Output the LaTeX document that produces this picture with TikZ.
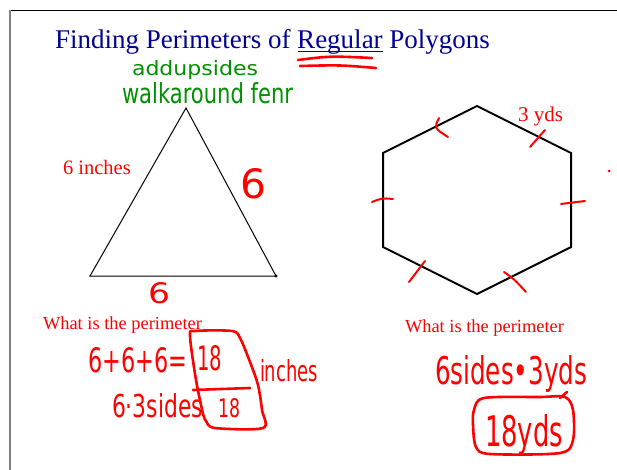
\documentclass[tikz,border=0pt]{standalone}
\usepackage{fontspec}
\setmainfont{Liberation Serif}
\newfontfamily\handfont{DejaVu Sans}
\definecolor{titleblue}{RGB}{0,0,150}
\definecolor{penred}{RGB}{255,0,0}
\definecolor{pengreen}{RGB}{0,145,0}
\newcommand{\scrawl}[3]{\resizebox{#1pt}{#2pt}{\handfont #3}}

\begin{document}
\begin{tikzpicture}[
                x=1pt, y=-1pt,
                every node/.style={inner sep=0pt, outer sep=0pt},
                printed/.style={
                        text=penred, anchor=base west,
                        font=\fontsize{18.4}{20}\selectfont
                    },
                hand/.style={text=penred, anchor=base west},
                ink/.style={draw=penred, line width=2.6pt, line cap=round, line join=round},
                outline/.style={draw=black, line join=miter}
            ]

            \useasboundingbox (0,0) rectangle (617,470);
            \fill[white] (0,0) rectangle (617,470);
            \draw[black, line width=1.3pt] (9,10.5) -- (617,10.5);
            \draw[gray, line width=2pt] (9.5,10) -- (9.5,470);

            \node[anchor=base west, text=titleblue, font=\fontsize{27}{30}\selectfont]
                (title) at (55,49) {Finding Perimeters of Regular Polygons};
            \draw[titleblue, line width=1pt] (298,51.5) -- (383,51.5);
            \draw[ink] (298,60) .. controls (330,56) .. (372,58);
            \draw[ink] (300,66) .. controls (340,65) .. (376,68);

            \node[hand, text=pengreen] (addup) at (132,76) {\scrawl{126}{15}{addupsides}};
            \node[hand, text=pengreen] (walk) at (122,104) {\scrawl{171}{21}{walkaround fenr}};

            % Triangle
            \coordinate (apex) at (186,108);
            \coordinate (baseL) at (90,276);
            \coordinate (baseR) at (276,276);
            \draw[outline, line width=1pt] (apex) -- (baseL) -- (baseR) -- cycle;
            \fill (baseR) circle (1.6);
            \node[printed, font=\fontsize{20.5}{22}\selectfont] (sixinch) at (63,175) {6 inches};
            \node[hand] (sixright) at (240,198) {\scrawl{26}{30}{6}};
            \node[hand] (sixbase) at (148,303) {\scrawl{22}{21}{6}};

            % Hexagon
            \coordinate (hexT) at (477,106);
            \coordinate (hexUR) at (571,153);
            \coordinate (hexLR) at (571,247);
            \coordinate (hexB) at (477,294);
            \coordinate (hexLL) at (383,247);
            \coordinate (hexUL) at (383,153);
            \draw[outline, line width=2pt] (hexT) -- (hexUR) -- (hexLR) -- (hexB) -- (hexLL) -- (hexUL) -- cycle;
            \node[printed, font=\fontsize{21}{22}\selectfont] (threeyds) at (518,122) {3 yds};
            \draw[ink, line width=2pt] (439,118) .. controls (434,128) .. (448,137);
            \draw[ink, line width=2pt] (545,130) -- (530,147);
            \draw[ink, line width=2pt] (561,204) -- (585,201);
            \draw[ink, line width=2pt] (372,202) .. controls (382,198) .. (393,199);
            \draw[ink, line width=2pt] (425,261) -- (409,282);
            \draw[ink, line width=2pt] (504,272) .. controls (514,279) .. (526,292);
            \fill[penred] (609,171) circle (1.5);

            % Left working
            \node[printed] (askleft) at (43,329) {What is the perimeter};
            \node[hand] (sums) at (88,372) {\scrawl{99}{25}{6+6+6=}};
            \node[hand] (topans) at (197,370) {\scrawl{25}{25}{18}};
            \node[hand] (inches) at (260,381) {\scrawl{58}{22}{inches}};
            \draw[ink] (193,390) -- (250,388);
            \node[hand] (times) at (112,417) {\scrawl{91}{24}{6·3sides}};
            \node[hand] (lowans) at (218,417) {\scrawl{22}{19}{18}};
            \draw[ink] plot[smooth, tension=0.5] coordinates {
                    (203,414) (196,380) (190,336) (195,331) (232,331) (240,338)
                    (250,362) (258,385) (262,410) (263,428) (215,428) (206,421) (203,414)};

            % Right working
            \node[printed] (askright) at (405,332) {What is the perimeter};
            \node[hand] (product) at (435,384) {\scrawl{152}{29}{6sides•3yds}};
            \node[hand] (answer) at (485,446) {\scrawl{78}{32}{18yds}};
            \draw[ink] plot[smooth cycle, tension=0.5] coordinates {
                    (474,410) (484,398) (540,397) (565,397) (573,410)
                    (573,440) (560,453) (490,454) (476,447) (473,425)};
            \draw[ink] (560,398) -- (567,392);

        \end{tikzpicture}
\end{document}
